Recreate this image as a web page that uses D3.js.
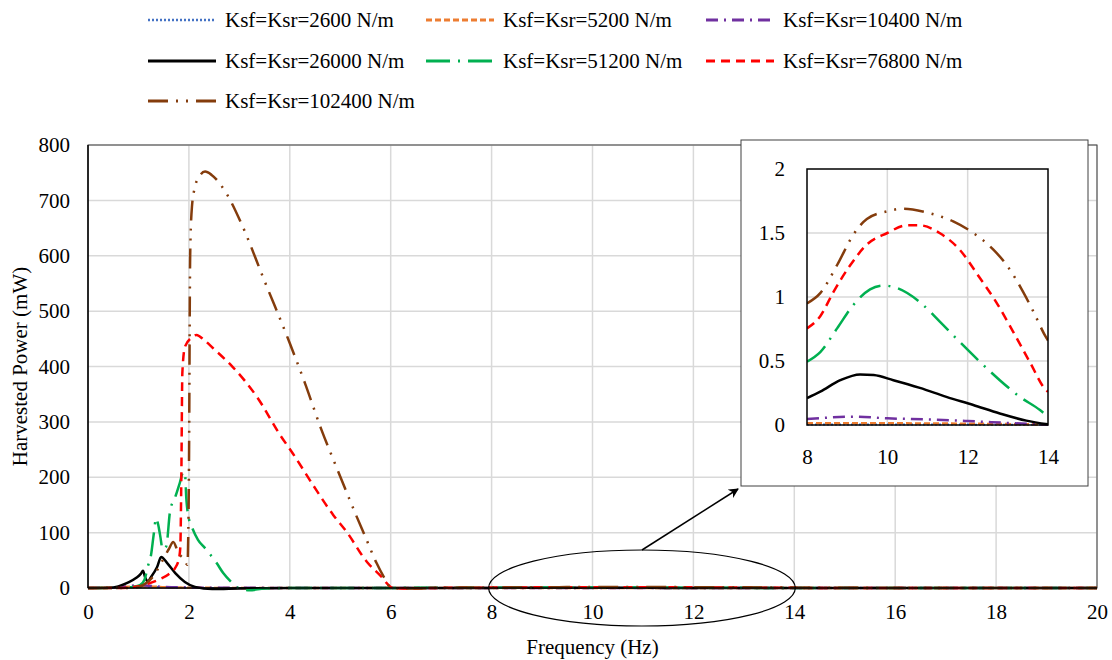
<!DOCTYPE html>
<html>
<head>
<meta charset="utf-8">
<script src="https://cdn.jsdelivr.net/npm/d3@7"></script>
<style>
  body { margin: 0; background: #fff; }
  svg { display: block; font-family: "Liberation Serif", "Times New Roman", serif; }
</style>
</head>
<body>
<div id="chart"></div>
<script>
const width = 1112;
const height = 660;

// frequency (Hz), harvested power (mW)
const k2600 = [[0,0],[0.5,0.5],[1,1.5],[1.3,2],[1.6,1],[2,0.3],[3,0.05],[6,0.01],[8,0.004],[10,0.004],[12,0.003],[14,0.002],[20,0.001]];
const k5200 = [[0,0],[0.5,0.8],[0.9,2.5],[1.2,3],[1.5,1.5],[2,0.5],[3,0.1],[6,0.02],[8,0.013],[10,0.013],[12,0.01],[13,0.007],[14,0.004],[20,0.001]];
const k10400 = [[0,0],[0.5,1],[0.8,3],[1.0,5],[1.2,4],[1.5,2],[2,1],[3,0.3],[6,0.06],[8,0.047],[9.2,0.065],[10,0.052],[11,0.044],[12,0.031],[13,0.016],[14,0.002],[20,0.001]];
const k26000 = [[0,0],[0.4,0.5],[0.6,3],[0.8,10],[0.95,18],[1.05,26],[1.09,31],[1.13,20],[1.18,12],[1.25,20],[1.37,38],[1.45,56],[1.57,45],[1.73,27],[1.92,11],[2.12,2],[2.46,-2],[3,-1],[4,0],[5,0.05],[7,0.15],[8,0.21],[8.33,0.26],[8.83,0.35],[9.32,0.395],[9.66,0.39],[10.15,0.35],[10.81,0.29],[11.47,0.22],[12.14,0.156],[12.8,0.09],[13.46,0.034],[14,0.005],[16,0.002],[20,0.001]];
const k51200 = [[0,0],[0.6,0],[0.9,2],[1.03,5],[1.12,15],[1.19,40],[1.25,60],[1.3,95],[1.35,126],[1.39,115],[1.43,95],[1.48,70],[1.55,75],[1.63,141],[1.72,162],[1.82,190],[1.88,208],[1.92,209],[1.95,160],[2.0,125],[2.06,110],[2.18,87],[2.32,72],[2.55,45],[2.68,27],[2.85,10],[3.0,-1],[3.2,-4],[3.5,-1],[4,0],[5,0.1],[6,0.2],[7,0.32],[8,0.495],[8.33,0.57],[8.75,0.755],[9.16,0.94],[9.57,1.06],[9.9,1.09],[10.24,1.07],[10.81,0.96],[11.3,0.81],[11.8,0.65],[12.3,0.495],[12.8,0.35],[13.3,0.22],[13.8,0.117],[14,0.065],[15,0.03],[20,0.01]];
const k76800 = [[0,0],[0.6,0],[1.0,3],[1.2,8],[1.4,15],[1.6,25],[1.72,35],[1.8,52],[1.83,74],[1.85,200],[1.87,388],[1.92,435],[2.05,452],[2.15,457],[2.3,448],[2.48,433],[2.87,399],[3.35,345],[3.81,276],[4.06,243],[4.46,186],[4.86,132],[5.13,101],[5.53,47],[5.79,23],[6.05,0],[6.3,-1],[7,0.3],[7.5,0.5],[8,0.755],[8.33,0.85],[8.66,1.04],[9.08,1.25],[9.49,1.41],[10,1.5],[10.48,1.56],[10.81,1.56],[11.3,1.5],[11.8,1.37],[12.3,1.15],[12.71,0.96],[13.13,0.73],[13.55,0.49],[13.96,0.27],[14,0.26],[15,0.1],[20,0.02]];
const k102400 = [[0,0],[0.8,0],[1.0,2],[1.17,10],[1.3,22],[1.45,45],[1.6,70],[1.69,83],[1.78,66],[1.82,60],[1.88,54],[1.92,48],[1.97,42],[2.0,200],[2.025,600],[2.06,688],[2.12,724],[2.22,745],[2.32,752],[2.45,746],[2.74,713],[3.07,652],[3.47,561],[4.0,442],[4.3,370],[4.63,285],[4.93,217],[5.09,181],[5.33,128],[5.49,94],[5.72,45],[5.92,11],[6.0,0],[6.3,-1],[7,0.4],[7.5,0.7],[8,0.95],[8.33,1.03],[8.75,1.25],[9.16,1.49],[9.49,1.61],[10,1.67],[10.4,1.69],[10.98,1.66],[11.64,1.59],[12.14,1.5],[12.64,1.37],[12.97,1.25],[13.38,1.04],[13.63,0.89],[13.96,0.68],[14,0.66],[15,0.3],[16,0.15],[18,0.05],[20,0.02]];

const seriesNames = ["Ksf=Ksr=2600 N/m", "Ksf=Ksr=5200 N/m", "Ksf=Ksr=10400 N/m",
    "Ksf=Ksr=26000 N/m", "Ksf=Ksr=51200 N/m", "Ksf=Ksr=76800 N/m", "Ksf=Ksr=102400 N/m"];
const seriesValues = [k2600, k5200, k10400, k26000, k51200, k76800, k102400];

const xTicks = [0, 2, 4, 6, 8, 10, 12, 14, 16, 18, 20];
const yTicks = [0, 100, 200, 300, 400, 500, 600, 700, 800];
const insetXTicks = [8, 10, 12, 14];
const insetYTicks = [0, 0.5, 1, 1.5, 2];

// line styles, same order as the series
const styles = [
    { color: "#4472C4", dash: "2,2", w: 2 },
    { color: "#ED7D31", dash: "6,3", w: 2.5 },
    { color: "#7030A0", dash: "12,6,2,6", w: 2.5 },
    { color: "#000000", dash: null, w: 2.5 },
    { color: "#00B050", dash: "24,8,2,8", w: 2.5 },
    { color: "#FF0000", dash: "9,6", w: 2.5 },
    { color: "#843C0C", dash: "20,8,2,8,2,8", w: 2.5 }
];

const series = seriesNames.map((name, i) => ({ name, values: seriesValues[i], style: styles[i] }));

const svg = d3.select("#chart")
    .append("svg")
    .attr("width", width)
    .attr("height", height);

const x = d3.scaleLinear().domain([0, 20]).range([88, 1097]);
const y = d3.scaleLinear().domain([0, 800]).range([588, 145]);

// =================== Grid ===================
const grid = svg.append("g");
grid.selectAll("line.v")
    .data(xTicks.slice(1))
    .join("line")
    .attr("x1", d => x(d)).attr("x2", d => x(d))
    .attr("y1", y(0)).attr("y2", y(800))
    .attr("stroke", "#d9d9d9").attr("stroke-width", 1.5);
grid.selectAll("line.h")
    .data(yTicks.slice(1))
    .join("line")
    .attr("x1", x(0)).attr("x2", x(20))
    .attr("y1", d => y(d)).attr("y2", d => y(d))
    .attr("stroke", "#d9d9d9").attr("stroke-width", 1.5);

svg.append("rect")
    .attr("x", x(0)).attr("y", y(800))
    .attr("width", x(20) - x(0)).attr("height", y(0) - y(800))
    .attr("fill", "none").attr("stroke", "#404040").attr("stroke-width", 1);

// =================== Lines ===================
const line = d3.line()
    .x(d => x(d[0]))
    .y(d => y(d[1]))
    .curve(d3.curveMonotoneX);

svg.append("g")
    .selectAll("path")
    .data(series)
    .join("path")
    .attr("d", d => line(d.values))
    .attr("fill", "none")
    .attr("stroke", d => d.style.color)
    .attr("stroke-width", d => d.style.w)
    .attr("stroke-dasharray", d => d.style.dash);

// axis lines
svg.append("line")
    .attr("x1", x(0)).attr("x2", x(0)).attr("y1", y(0)).attr("y2", y(800))
    .attr("stroke", "#000").attr("stroke-width", 1.5);
svg.append("line")
    .attr("x1", x(0)).attr("x2", x(20)).attr("y1", y(0)).attr("y2", y(0))
    .attr("stroke", "#000").attr("stroke-width", 1.5);

// =================== Axes ===================
const xAxis = svg.append("g")
    .attr("transform", `translate(0,${y(0)})`)
    .call(d3.axisBottom(x).tickValues(xTicks).tickSize(0).tickPadding(16).tickFormat(d3.format("d")));
const yAxis = svg.append("g")
    .attr("transform", `translate(${x(0)},0)`)
    .call(d3.axisLeft(y).tickValues(yTicks).tickSize(0).tickPadding(18).tickFormat(d3.format("d")));
[xAxis, yAxis].forEach(a => {
    a.select(".domain").remove();
    a.selectAll("text")
        .attr("font-family", "Liberation Serif, serif")
        .attr("font-size", 21)
        .attr("fill", "#000");
});

svg.append("text")
    .attr("x", (x(0) + x(20)) / 2).attr("y", 654)
    .attr("text-anchor", "middle")
    .attr("font-size", 21)
    .text("Frequency (Hz)");
svg.append("text")
    .attr("transform", `translate(27,${(y(0) + y(800)) / 2}) rotate(-90)`)
    .attr("text-anchor", "middle")
    .attr("font-size", 21)
    .text("Harvested Power (mW)");

// =================== Legend ===================
const legendCols = [148, 426, 706];
const legendRows = [20, 61, 101];
const legend = svg.append("g")
    .selectAll("g")
    .data(series)
    .join("g")
    .attr("transform", (d, i) => `translate(${legendCols[i % 3]},${legendRows[Math.floor(i / 3)]})`);
legend.append("line")
    .attr("x1", 0).attr("x2", 68)
    .attr("stroke", d => d.style.color)
    .attr("stroke-width", d => d.style.w + 0.5)
    .attr("stroke-dasharray", d => d.style.dash);
legend.append("text")
    .attr("x", 77).attr("dy", "0.35em")
    .attr("font-size", 21)
    .text(d => d.name);

// =================== Ellipse + arrow ===================
svg.append("defs").append("marker")
    .attr("id", "arrowhead")
    .attr("viewBox", "0 -5 10 10")
    .attr("refX", 9)
    .attr("refY", 0)
    .attr("orient", "auto")
    .attr("markerWidth", 10)
    .attr("markerHeight", 10)
    .attr("markerUnits", "userSpaceOnUse")
    .append("path")
    .attr("d", "M0,-5 L10,0 L0,5 L3,0 Z")
    .attr("fill", "#000");

svg.append("ellipse")
    .attr("cx", (x(8) + x(14)) / 2 - 1).attr("cy", y(0))
    .attr("rx", (x(14) - x(8)) / 2 + 2).attr("ry", 38)
    .attr("fill", "none").attr("stroke", "#000").attr("stroke-width", 1.2);

svg.append("line")
    .attr("x1", 642).attr("y1", 550)
    .attr("x2", 738).attr("y2", 489)
    .attr("stroke", "#000").attr("stroke-width", 1.5)
    .attr("marker-end", "url(#arrowhead)");

// =================== Inset ===================
const inset = svg.append("g");
inset.append("rect")
    .attr("x", 741).attr("y", 140).attr("width", 347).attr("height", 346)
    .attr("fill", "#fff").attr("stroke", "#404040").attr("stroke-width", 1);

const ix = d3.scaleLinear().domain([8, 14]).range([807, 1048]);
const iy = d3.scaleLinear().domain([0, 2]).range([425, 169]);

inset.selectAll("line.v")
    .data(insetXTicks.slice(1, -1))
    .join("line")
    .attr("x1", d => ix(d)).attr("x2", d => ix(d))
    .attr("y1", iy(0)).attr("y2", iy(2))
    .attr("stroke", "#d9d9d9").attr("stroke-width", 1.5);
inset.selectAll("line.h")
    .data(insetYTicks.slice(1, -1))
    .join("line")
    .attr("x1", ix(8)).attr("x2", ix(14))
    .attr("y1", d => iy(d)).attr("y2", d => iy(d))
    .attr("stroke", "#d9d9d9").attr("stroke-width", 1.5);

svg.select("defs").append("clipPath")
    .attr("id", "insetClip")
    .append("rect")
    .attr("x", ix(8)).attr("y", iy(2) - 2)
    .attr("width", ix(14) - ix(8)).attr("height", iy(0) - iy(2) + 4);

const iline = d3.line()
    .x(d => ix(d[0]))
    .y(d => iy(d[1]))
    .curve(d3.curveMonotoneX);

inset.append("g")
    .attr("clip-path", "url(#insetClip)")
    .selectAll("path")
    .data(series)
    .join("path")
    .attr("d", d => iline(d.values.filter(p => p[0] >= 8 && p[0] <= 14)))
    .attr("fill", "none")
    .attr("stroke", d => d.style.color)
    .attr("stroke-width", d => d.style.w)
    .attr("stroke-dasharray", d => d.style.dash);

inset.append("rect")
    .attr("x", ix(8)).attr("y", iy(2))
    .attr("width", ix(14) - ix(8)).attr("height", iy(0) - iy(2))
    .attr("fill", "none").attr("stroke", "#000").attr("stroke-width", 1.5);

const ixAxis = inset.append("g")
    .attr("transform", `translate(0,${iy(0)})`)
    .call(d3.axisBottom(ix).tickValues(insetXTicks).tickSize(0).tickPadding(24).tickFormat(d3.format("d")));
const iyAxis = inset.append("g")
    .attr("transform", `translate(${ix(8)},0)`)
    .call(d3.axisLeft(iy).tickValues(insetYTicks).tickSize(0).tickPadding(22).tickFormat(d => String(d)));
[ixAxis, iyAxis].forEach(a => {
    a.select(".domain").remove();
    a.selectAll("text")
        .attr("font-family", "Liberation Serif, serif")
        .attr("font-size", 21)
        .attr("fill", "#000");
});
</script>
</body>
</html>
